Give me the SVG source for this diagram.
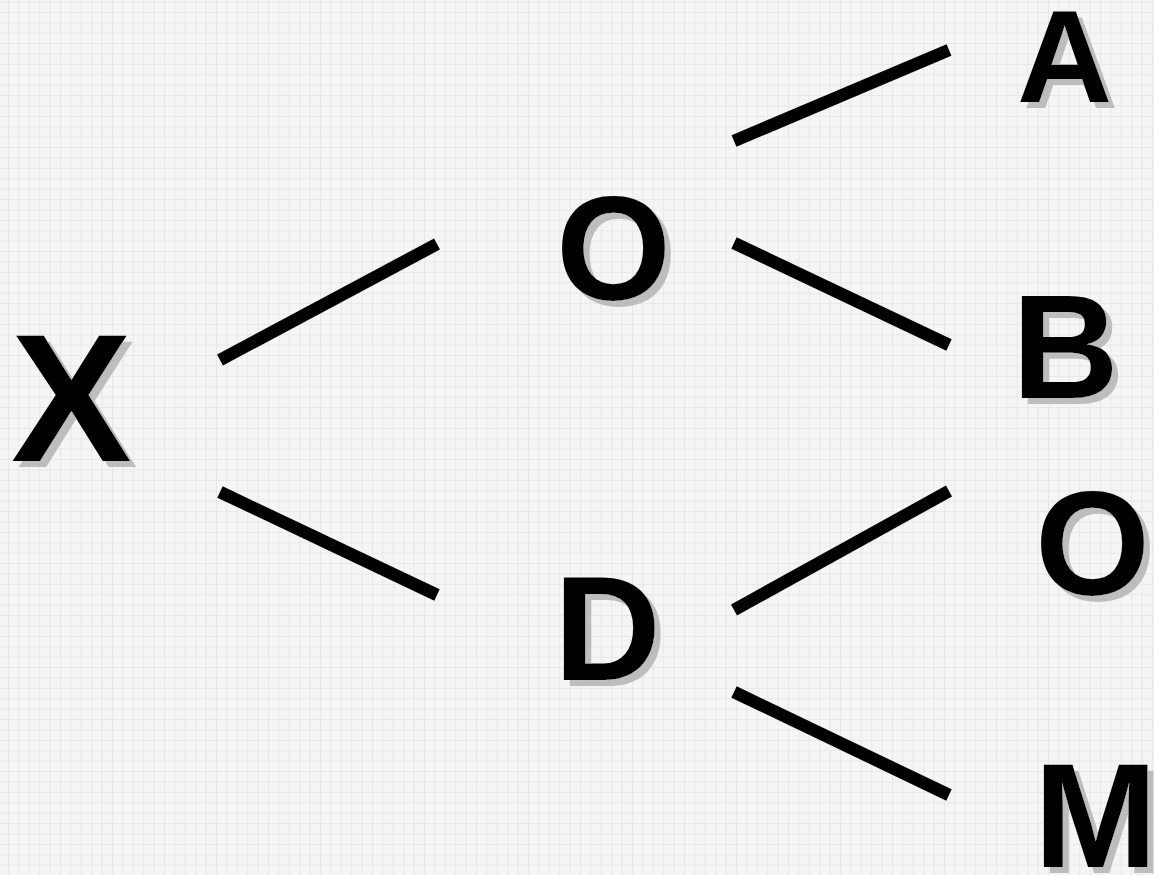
<svg xmlns="http://www.w3.org/2000/svg" width="1154" height="875" viewBox="0 0 1154 875">
<defs>
<pattern id="grid" x="8" y="1.5" width="10.4" height="10.4" patternUnits="userSpaceOnUse">
<rect width="10.4" height="10.4" fill="#f5f5f5"/>
<path d="M0.5 0V10.4M0 0.5H10.4" stroke="#e7e7e7" stroke-width="1" fill="none"/>
</pattern>
<filter id="shadow" x="-10%" y="-10%" width="130%" height="130%">
<feFlood flood-color="#bdbdbd" result="c"/>
<feComposite in="c" in2="SourceAlpha" operator="in" result="sh"/>
<feOffset in="sh" dx="6" dy="6" result="off"/>
<feMerge><feMergeNode in="off"/><feMergeNode in="SourceGraphic"/></feMerge>
</filter>
<style>
.t{font-family:"Liberation Sans",Arial,sans-serif;font-weight:bold;fill:#000;filter:url(#shadow);}
.c line{stroke:#000;stroke-width:12.5;stroke-linecap:butt;}
</style>
</defs>
<rect width="1154" height="875" fill="url(#grid)"/>
<g id="connectors" class="c">
<line x1="220" y1="360" x2="437" y2="244"/>
<line x1="220" y1="492" x2="437" y2="595"/>
<line x1="734" y1="141" x2="949" y2="50"/>
<line x1="734" y1="243" x2="949" y2="345"/>
<line x1="734" y1="610" x2="949" y2="491"/>
<line x1="734" y1="692" x2="949" y2="795"/>
</g>
<g id="node-X"><text class="t" font-size="181" x="11" y="461">X</text></g>
<g id="node-O1"><text class="t" font-size="148" x="556" y="300">O</text></g>
<g id="node-D"><text class="t" font-size="148" x="554" y="680">D</text></g>
<g id="node-A"><text class="t" font-size="132" x="1017" y="102">A</text></g>
<g id="node-B"><text class="t" font-size="148" x="1012" y="398">B</text></g>
<g id="node-O2"><text class="t" font-size="148" x="1035" y="595">O</text></g>
<g id="node-M"><text class="t" font-size="148" x="1034" y="867">M</text></g>
</svg>
